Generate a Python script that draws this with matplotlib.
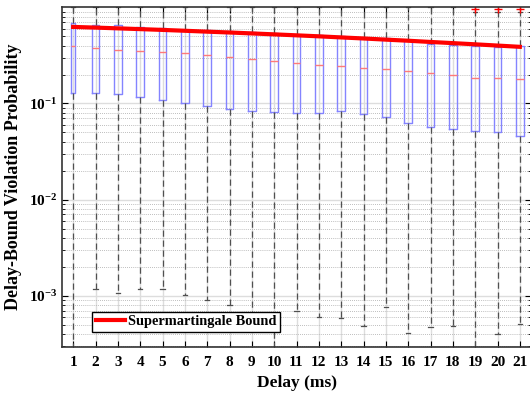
import matplotlib
matplotlib.use("Agg")
import matplotlib.pyplot as plt
from matplotlib.ticker import LogLocator, NullFormatter

delays = list(range(1, 22))
q1 = [0.127, 0.127, 0.125, 0.117, 0.108, 0.100, 0.094, 0.087, 0.084, 0.082, 0.079,
      0.080, 0.084, 0.077, 0.0715, 0.0624, 0.057, 0.054, 0.0515, 0.0499, 0.0457]
medians = [0.392, 0.373, 0.358, 0.350, 0.341, 0.331, 0.318, 0.305, 0.291, 0.275, 0.264,
           0.254, 0.243, 0.234, 0.227, 0.220, 0.207, 0.200, 0.185, 0.182, 0.178]
q3 = [0.679, 0.662, 0.647, 0.631, 0.610, 0.587, 0.578, 0.565, 0.547, 0.535, 0.521,
      0.509, 0.497, 0.485, 0.474, 0.452, 0.417, 0.407, 0.397, 0.388, 0.397]
whisker_low = [1e-4, 1.17e-3, 1.07e-3, 1.17e-3, 1.17e-3, 1.02e-3, 9.0e-4, 8.0e-4, 6.5e-4, 1e-4, 6.9e-4,
               6.0e-4, 5.86e-4, 4.8e-4, 7.7e-4, 4.1e-4, 4.7e-4, 4.9e-4, 1e-4, 4.0e-4, 5.1e-4]
whisker_high = [1.0] * 18 + [0.9, 0.9, 0.9]
outliers = [[]] * 18 + [[0.96], [0.96], [0.96]]
bound = [0.625, 0.615, 0.604, 0.593, 0.582, 0.570, 0.558, 0.547, 0.535, 0.523, 0.511,
         0.499, 0.486, 0.474, 0.461, 0.449, 0.436, 0.424, 0.412, 0.400, 0.388]

plt.rcParams["font.family"] = ["Liberation Serif", "DejaVu Serif"]
plt.rcParams["mathtext.fontset"] = "custom"
plt.rcParams["mathtext.rm"] = "Liberation Serif:bold"
plt.rcParams["mathtext.it"] = "Liberation Serif:bold"
plt.rcParams["mathtext.bf"] = "Liberation Serif:bold"

fig = plt.figure(figsize=(5.3, 3.94), dpi=100)
ax = fig.add_axes([62 / 530, (394 - 346.7) / 394, 469 / 530, 339.4 / 394])

stats = []
for d, lo, a, m, b, hi, fl in zip(delays, whisker_low, q1, medians, q3, whisker_high, outliers):
    stats.append(dict(label=str(d), whislo=lo, q1=a, med=m, q3=b, whishi=hi, fliers=fl))

widths = [0.17] + [0.35] * 20
ax.bxp(stats, positions=delays, widths=widths, showfliers=True,
       boxprops=dict(color="#8484ff", linewidth=1.0),
       medianprops=dict(color="#ff7a7a", linewidth=1.0),
       whiskerprops=dict(color="#505050", linestyle=(0, (5, 3)), linewidth=0.9),
       capprops=dict(color="#505050", linewidth=0.9),
       capwidths=0.18,
       flierprops=dict(marker="+", markeredgecolor="red", markersize=6, linestyle="none"))

ax.plot(delays, bound, color="red", linewidth=3, label="Supermartingale Bound", zorder=5)

ax.set_yscale("log")
ax.set_ylim(2.95e-4, 1.0)
ax.set_xlim(0.5, 21.5)
ax.set_xticks(delays)
ax.set_xticklabels([str(d) for d in delays])
ax.yaxis.set_minor_locator(LogLocator(base=10, subs=range(2, 10), numticks=20))
ax.yaxis.set_minor_formatter(NullFormatter())
ax.set_yticks([1e-3, 1e-2, 1e-1])
ax.set_yticklabels([r"$10^{-3}$", r"$10^{-2}$", r"$10^{-1}$"])

ax.grid(True, which="major", color="#dddddd", linewidth=1.0, zorder=0)
ax.grid(True, which="minor", axis="y", color="#a8a8a8", linestyle=(0, (1, 1.5)), linewidth=0.6)
ax.set_axisbelow(True)

ax.tick_params(axis="both", which="both", direction="in", top=True, right=True)
ax.tick_params(axis="both", which="major", length=4, labelsize=11, width=0.8)
ax.tick_params(axis="y", which="minor", length=2)
ax.tick_params(axis="x", pad=7)
for lab in ax.get_xticklabels() + ax.get_yticklabels():
    lab.set_fontweight("bold")
for s in ax.spines.values():
    s.set_color("#333333")
    s.set_linewidth(1.2)

ax.set_xlabel("Delay (ms)", fontsize=12.5, fontweight="bold", labelpad=4)
ax.set_ylabel("Delay-Bound Violation Probability", fontsize=13, fontweight="bold", labelpad=5)

leg = ax.legend(loc="lower left", bbox_to_anchor=(0.049, 0.022), fancybox=False,
                edgecolor="black", framealpha=1, handlelength=2.0, handletextpad=0.25,
                borderpad=0.25, prop=dict(weight="bold", size=10.4))
leg.get_frame().set_linewidth(1.0)

fig.savefig("out.png", dpi=100)
